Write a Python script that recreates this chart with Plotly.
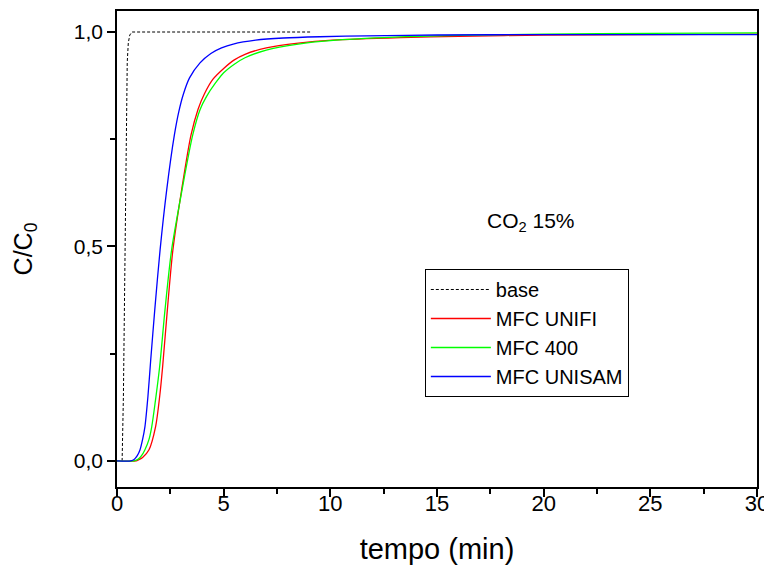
import plotly.graph_objects as go

# --- data ---
base_t = [0, 0.24, 0.30, 0.37, 0.43, 0.48, 0.53, 0.60, 0.70, 9.13]
base_y = [0, 0, 0.15, 0.50, 0.77, 0.93, 0.975, 0.993, 1.0, 1.0]

unifi_t = [0, 0.9, 1.0, 1.2, 1.5, 1.81, 2.0, 2.14, 2.36, 2.62, 3.03, 3.47, 3.8, 4.09, 4.5, 5.0, 5.5, 6.0, 7.0, 8.5, 10.1, 13.3, 16, 20, 25, 30]
unifi_y = [0, 0, 0.002, 0.008, 0.026, 0.08, 0.15, 0.22, 0.352, 0.492, 0.632, 0.76, 0.82, 0.855, 0.89, 0.915, 0.935, 0.948, 0.963, 0.974, 0.981, 0.987, 0.990, 0.993, 0.994, 0.995]

m400_t = [0, 0.8, 1.0, 1.15, 1.31, 1.5, 1.63, 1.8, 2.0, 2.25, 2.56, 3.05, 3.55, 3.9, 4.2, 4.6, 5.0, 5.5, 6.0, 7.0, 8.5, 10, 13, 16, 20, 25, 30]
m400_y = [0, 0, 0.004, 0.012, 0.026, 0.05, 0.08, 0.14, 0.22, 0.352, 0.492, 0.632, 0.76, 0.82, 0.85, 0.88, 0.905, 0.925, 0.94, 0.958, 0.972, 0.980, 0.988, 0.992, 0.995, 0.997, 0.998]

unisam_t = [0, 0.65, 0.8, 0.95, 1.08, 1.2, 1.31, 1.45, 1.58, 1.77, 2.02, 2.33, 2.69, 2.9, 3.11, 3.4, 3.89, 4.4, 4.9, 5.45, 6.5, 7.8, 9.5, 11.7, 15, 20, 25, 30]
unisam_y = [0, 0, 0.003, 0.012, 0.026, 0.05, 0.08, 0.15, 0.235, 0.352, 0.492, 0.632, 0.76, 0.815, 0.855, 0.893, 0.928, 0.950, 0.963, 0.972, 0.981, 0.986, 0.989, 0.991, 0.993, 0.994, 0.994, 0.994]

series_names = ["base", "MFC UNIFI", "MFC 400", "MFC UNISAM"]
x_tickvals = [0, 5, 10, 15, 20, 25, 30]
y_tickvals = [0.0, 0.5, 1.0]
y_ticktext = ["0,0", "0,5", "1,0"]

FONT = "Liberation Sans, Arial, sans-serif"

fig = go.Figure()
fig.add_trace(go.Scatter(x=base_t, y=base_y, mode="lines", name=series_names[0],
                         line=dict(color="black", width=1, dash="3px,2px")))
fig.add_trace(go.Scatter(x=unifi_t, y=unifi_y, mode="lines", name=series_names[1],
                         line=dict(color="#FF0000", width=1.3, shape="spline", smoothing=0.8)))
fig.add_trace(go.Scatter(x=m400_t, y=m400_y, mode="lines", name=series_names[2],
                         line=dict(color="#00FF00", width=1.3, shape="spline", smoothing=0.8)))
fig.add_trace(go.Scatter(x=unisam_t, y=unisam_y, mode="lines", name=series_names[3],
                         line=dict(color="#0000FF", width=1.3, shape="spline", smoothing=0.8)))

axis_common = dict(showgrid=False, zeroline=False, showline=True, linecolor="black",
                   linewidth=1.6, mirror=True, ticks="outside", tickcolor="black",
                   tickwidth=1.5, ticklen=8, automargin=False)

fig.update_xaxes(range=[0, 30], tickvals=x_tickvals,
                 minor=dict(dtick=2.5, tick0=0, ticks="outside", ticklen=5, tickcolor="black", tickwidth=1.5),
                 tickfont=dict(family=FONT, size=22, color="black"),
                 ticklabelstandoff=-12,
                 title=dict(text="tempo (min)", font=dict(family=FONT, size=29, color="black"), standoff=23),
                 **axis_common)
fig.update_yaxes(range=[-0.061, 1.049], tickvals=y_tickvals, ticktext=y_ticktext,
                 minor=dict(dtick=0.25, tick0=0, ticks="outside", ticklen=5, tickcolor="black", tickwidth=1.5),
                 tickfont=dict(family=FONT, size=21, color="black"),
                 title=dict(text="C/C<sub>0</sub>", font=dict(family=FONT, size=25, color="black"), standoff=34),
                 **axis_common)

fig.add_annotation(x=19.4, y=0.557, xref="x", yref="y", text="CO<sub>2</sub> 15%",
                   showarrow=False, font=dict(family=FONT, size=21, color="black"))

# the page adds an 8px body margin, so the figure is sized/offset to compensate
fig.update_layout(
    width=764, height=566,
    margin=dict(l=109, r=15, t=3, b=87),
    plot_bgcolor="white", paper_bgcolor="white",
    legend=dict(x=0.481, y=0.458, xanchor="left", yanchor="top",
                bordercolor="black", borderwidth=1, bgcolor="white",
                font=dict(family=FONT, size=20, color="black"),
                tracegroupgap=0, itemwidth=60),
)

fig.write_html("out.html")
